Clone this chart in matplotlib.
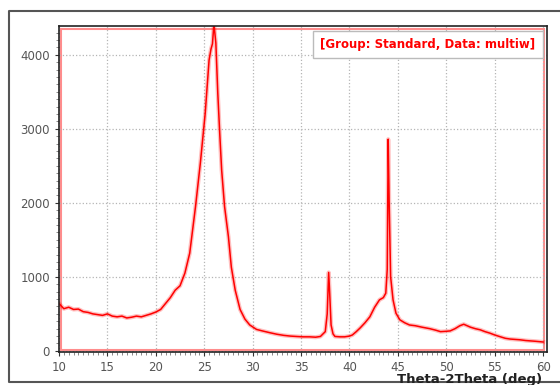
import matplotlib
matplotlib.use("Agg")
import matplotlib.pyplot as plt
from matplotlib.lines import Line2D
from matplotlib.patches import Rectangle
from matplotlib.ticker import MultipleLocator

# XRD scan
two_theta = [10.0, 10.5, 11.0, 11.5, 12.0, 12.5, 13.0, 13.5, 14.0, 14.5,
             15.0, 15.5, 16.0, 16.5, 17.0, 17.5, 18.0, 18.5, 19.0, 19.5,
             20.0, 20.5, 21.0, 21.5, 22.0, 22.5, 23.0, 23.5, 24.1, 24.6,
             25.1, 25.5, 25.7, 25.85, 26.0, 26.2, 26.4, 26.6, 26.8, 27.1,
             27.5, 27.8, 28.2, 28.7, 29.2, 29.7, 30.4, 31.0, 31.8, 32.5,
             33.2, 33.9, 34.5, 35.2, 35.9, 36.5, 37.0, 37.5, 37.7, 37.85,
             37.95, 38.1, 38.3, 38.5, 39.0, 39.5, 40.0, 40.3, 40.7, 41.1,
             41.6, 42.1, 42.6, 43.1, 43.5, 43.75, 43.9, 44.0, 44.1, 44.25,
             44.5, 44.8, 45.2, 45.7, 46.2, 46.8, 47.5, 48.3, 48.9, 49.4,
             50.0, 50.4, 50.9, 51.4, 51.8, 52.5, 53.0, 53.5, 54.0, 54.5,
             55.0, 55.6, 56.1, 56.6, 57.1, 57.6, 58.2, 58.7, 59.2, 59.6, 60.0]
counts = [640, 570, 590, 560, 565, 530, 520, 500, 490, 480,
          500, 470, 460, 470, 445, 455, 470, 460, 480, 500,
          525, 560, 640, 720, 820, 880, 1050, 1320, 1950, 2540,
          3210, 3930, 4080, 4150, 4420, 4160, 3480, 2940, 2440, 1950,
          1540, 1130, 820, 560, 430, 350, 290, 270, 245, 225,
          210, 200, 195, 190, 190, 185, 195, 260, 500, 1060,
          800, 350, 230, 195, 190, 190, 200, 215, 260, 310,
          380, 460, 590, 690, 720, 780, 1100, 2860, 2000, 1000,
          690, 510, 420, 380, 350, 340, 320, 300, 280, 260,
          265, 270, 300, 340, 360, 320, 300, 285, 260, 240,
          215, 190, 170, 160, 155, 150, 140, 135, 130, 125, 120]
assert len(two_theta) == len(counts)

x_ticks = [10, 15, 20, 25, 30, 35, 40, 45, 50, 55, 60]
y_ticks = [0, 1000, 2000, 3000, 4000]

fig = plt.figure(figsize=(5.6, 3.85), dpi=100)
ax = fig.add_axes([59 / 560, 1 - 352 / 385, 488 / 560, 326 / 385])

# outer frame: top, left and bottom edges only, it runs off to the right
fx0, fy0, fy1 = 9 / 560, 1 - 382 / 385, 1 - 11 / 385
fig.lines.append(Line2D([1.0, fx0, fx0, 1.0], [fy1, fy1, fy0, fy0], transform=fig.transFigure,
                        color="#555555", linewidth=1.5))

ax.plot(two_theta, counts, color="#ff0000", linewidth=3.0, alpha=0.25)
ax.plot(two_theta, counts, color="#ff0000", linewidth=1.1)

# light red data frame inside the axes
ax.add_patch(Rectangle((0.004, 0.005), 0.989, 0.985, transform=ax.transAxes,
                       fill=False, edgecolor="#ff8c8c", linewidth=1.5))

ax.set_xlim(10, 60.4)
ax.set_ylim(-15, 4390)
ax.set_xticks(x_ticks)
ax.set_yticks(y_ticks)
ax.xaxis.set_minor_locator(MultipleLocator(0.5))
ax.yaxis.set_minor_locator(MultipleLocator(100))
ax.tick_params(which="major", labelsize=8.5, labelcolor="#555555", length=3, color="#333333")
ax.tick_params(which="minor", length=2, color="#777777")
ax.grid(True, which="major", linestyle=":", color="#b5b5b5", linewidth=0.9)
for s in ax.spines.values():
    s.set_color("#222222")
    s.set_linewidth(1.2)

ax.text(0.756, 0.942, "[Group: Standard, Data: multiw]", transform=ax.transAxes,
        ha="center", va="center", color="#ff0000", fontsize=8.5, fontweight="bold",
        bbox=dict(boxstyle="square,pad=0.6", facecolor="white", edgecolor="#bbbbbb"))

fig.text(470 / 560, 1 - 380 / 385, "Theta-2Theta (deg)", ha="center", va="center",
         fontsize=9.5, fontweight="bold", color="#222222")

fig.savefig("out.png", dpi=100)
